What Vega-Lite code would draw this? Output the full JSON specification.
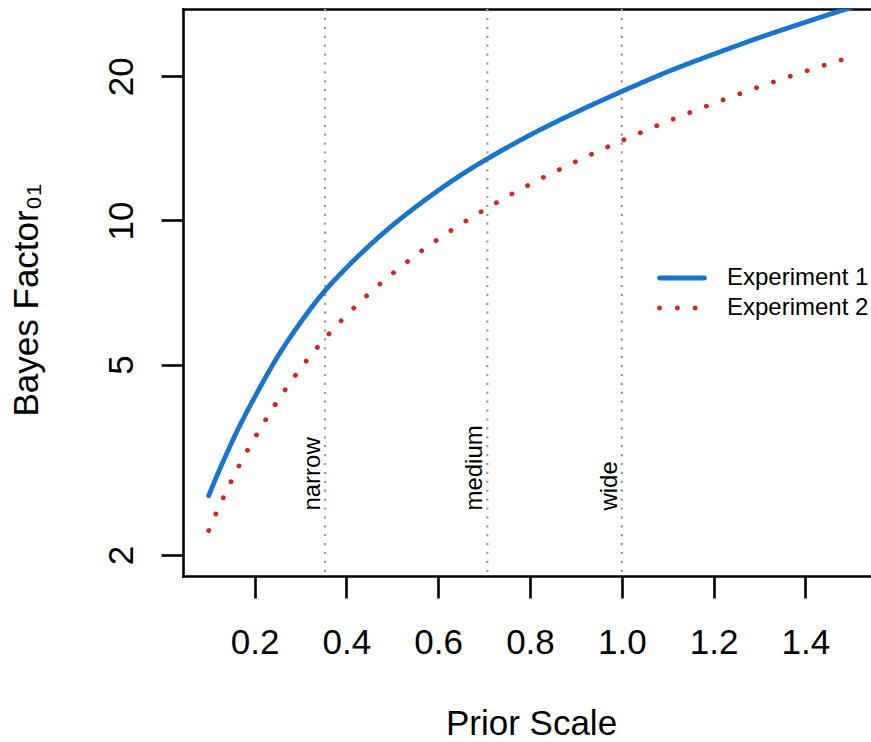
{
  "$schema": "https://vega.github.io/schema/vega-lite/v6.json",
  "autosize": {"type": "none"},
  "padding": {"left": 183, "top": 9, "right": 0, "bottom": 166},
  "width": 688,
  "height": 567,
  "background": "white",
  "config": {
    "view": {"stroke": null},
    "font": "Liberation Sans",
    "axis": {
      "labelFont": "Liberation Sans",
      "titleFont": "Liberation Sans",
      "labelColor": "black",
      "titleColor": "black",
      "titleFontWeight": "normal",
      "grid": false
    },
    "legend": {"labelFont": "Liberation Sans"}
  },
  "datasets": {
    "curves": [
      {"r": 0.10, "bf": 2.66, "series": "Experiment 1"},
      {"r": 0.12, "bf": 2.96, "series": "Experiment 1"},
      {"r": 0.14, "bf": 3.27, "series": "Experiment 1"},
      {"r": 0.16, "bf": 3.60, "series": "Experiment 1"},
      {"r": 0.18, "bf": 3.93, "series": "Experiment 1"},
      {"r": 0.20, "bf": 4.27, "series": "Experiment 1"},
      {"r": 0.25, "bf": 5.19, "series": "Experiment 1"},
      {"r": 0.30, "bf": 6.12, "series": "Experiment 1"},
      {"r": 0.35, "bf": 7.07, "series": "Experiment 1"},
      {"r": 0.40, "bf": 7.96, "series": "Experiment 1"},
      {"r": 0.45, "bf": 8.86, "series": "Experiment 1"},
      {"r": 0.50, "bf": 9.76, "series": "Experiment 1"},
      {"r": 0.55, "bf": 10.65, "series": "Experiment 1"},
      {"r": 0.60, "bf": 11.55, "series": "Experiment 1"},
      {"r": 0.65, "bf": 12.45, "series": "Experiment 1"},
      {"r": 0.70, "bf": 13.33, "series": "Experiment 1"},
      {"r": 0.75, "bf": 14.20, "series": "Experiment 1"},
      {"r": 0.80, "bf": 15.08, "series": "Experiment 1"},
      {"r": 0.85, "bf": 15.95, "series": "Experiment 1"},
      {"r": 0.90, "bf": 16.82, "series": "Experiment 1"},
      {"r": 0.95, "bf": 17.70, "series": "Experiment 1"},
      {"r": 1.00, "bf": 18.60, "series": "Experiment 1"},
      {"r": 1.05, "bf": 19.52, "series": "Experiment 1"},
      {"r": 1.10, "bf": 20.45, "series": "Experiment 1"},
      {"r": 1.15, "bf": 21.35, "series": "Experiment 1"},
      {"r": 1.20, "bf": 22.25, "series": "Experiment 1"},
      {"r": 1.25, "bf": 23.17, "series": "Experiment 1"},
      {"r": 1.30, "bf": 24.10, "series": "Experiment 1"},
      {"r": 1.35, "bf": 25.02, "series": "Experiment 1"},
      {"r": 1.40, "bf": 25.95, "series": "Experiment 1"},
      {"r": 1.45, "bf": 26.90, "series": "Experiment 1"},
      {"r": 1.50, "bf": 27.85, "series": "Experiment 1"},
      {"r": 0.10, "bf": 2.25, "series": "Experiment 2"},
      {"r": 0.12, "bf": 2.49, "series": "Experiment 2"},
      {"r": 0.14, "bf": 2.735, "series": "Experiment 2"},
      {"r": 0.16, "bf": 2.99, "series": "Experiment 2"},
      {"r": 0.18, "bf": 3.25, "series": "Experiment 2"},
      {"r": 0.20, "bf": 3.51, "series": "Experiment 2"},
      {"r": 0.25, "bf": 4.195, "series": "Experiment 2"},
      {"r": 0.30, "bf": 4.905, "series": "Experiment 2"},
      {"r": 0.35, "bf": 5.62, "series": "Experiment 2"},
      {"r": 0.40, "bf": 6.33, "series": "Experiment 2"},
      {"r": 0.45, "bf": 7.04, "series": "Experiment 2"},
      {"r": 0.50, "bf": 7.74, "series": "Experiment 2"},
      {"r": 0.55, "bf": 8.44, "series": "Experiment 2"},
      {"r": 0.60, "bf": 9.14, "series": "Experiment 2"},
      {"r": 0.65, "bf": 9.83, "series": "Experiment 2"},
      {"r": 0.70, "bf": 10.52, "series": "Experiment 2"},
      {"r": 0.75, "bf": 11.21, "series": "Experiment 2"},
      {"r": 0.80, "bf": 11.90, "series": "Experiment 2"},
      {"r": 0.85, "bf": 12.58, "series": "Experiment 2"},
      {"r": 0.90, "bf": 13.27, "series": "Experiment 2"},
      {"r": 0.95, "bf": 13.97, "series": "Experiment 2"},
      {"r": 1.00, "bf": 14.68, "series": "Experiment 2"},
      {"r": 1.05, "bf": 15.39, "series": "Experiment 2"},
      {"r": 1.10, "bf": 16.11, "series": "Experiment 2"},
      {"r": 1.15, "bf": 16.83, "series": "Experiment 2"},
      {"r": 1.20, "bf": 17.56, "series": "Experiment 2"},
      {"r": 1.25, "bf": 18.29, "series": "Experiment 2"},
      {"r": 1.30, "bf": 19.03, "series": "Experiment 2"},
      {"r": 1.35, "bf": 19.76, "series": "Experiment 2"},
      {"r": 1.40, "bf": 20.50, "series": "Experiment 2"},
      {"r": 1.45, "bf": 21.23, "series": "Experiment 2"},
      {"r": 1.50, "bf": 21.95, "series": "Experiment 2"}
    ],
    "refs": [
      {"r": 0.3536, "label": "narrow"},
      {"r": 0.7071, "label": "medium"},
      {"r": 1.0, "label": "wide"}
    ]
  },
  "resolve": {"axis": {"x": "independent", "y": "independent"}},
  "layer": [
    {
      "data": {"name": "refs"},
      "mark": {"type": "rule", "color": "#9a9a9a", "strokeWidth": 2.2, "strokeDash": [2.2, 6.7]},
      "encoding": {
        "x": {
          "field": "r", "type": "quantitative",
          "scale": {"domain": [0.044, 1.543], "nice": false, "zero": false},
          "axis": {"orient": "top", "labels": false, "ticks": false, "domain": true, "domainColor": "black", "domainWidth": 2.6, "domainCap": "square", "title": null, "grid": false}
        }
      }
    },
    {
      "data": {"name": "refs"},
      "mark": {"type": "text", "angle": -90, "align": "left", "baseline": "alphabetic", "dx": -2, "dy": -5, "fontSize": 24, "font": "Liberation Sans", "color": "black"},
      "encoding": {
        "x": {"field": "r", "type": "quantitative", "axis": null},
        "y": {"datum": 2.5, "type": "quantitative", "axis": null},
        "text": {"field": "label"}
      }
    },
    {
      "data": {"name": "curves"},
      "mark": {"type": "line", "clip": true, "strokeWidth": 4.8, "strokeCap": "round", "interpolate": "monotone"},
      "encoding": {
        "x": {
          "field": "r", "type": "quantitative",
          "axis": {
            "orient": "bottom",
            "title": "Prior Scale",
            "values": [0.2, 0.4, 0.6, 0.8, 1.0, 1.2, 1.4],
            "format": ".1f",
            "labelFontSize": 35,
            "titleFontSize": 35,
            "labelBaseline": "top",
            "labelPadding": 27,
            "labelFlush": false,
            "labelOverlap": false,
            "tickSize": 22,
            "tickWidth": 2.6,
            "tickColor": "black",
            "domainColor": "black",
            "domainWidth": 2.6,
            "domainCap": "square",
            "titleAlign": "center",
            "titleBaseline": "alphabetic",
            "titleX": 348,
            "titleY": 158
          }
        },
        "y": {
          "field": "bf", "type": "quantitative",
          "scale": {"type": "log", "domain": [1.8077, 27.655], "nice": false, "zero": false},
          "axis": {
            "orient": "left",
            "title": "Bayes Factor₀₁",
            "values": [2, 5, 10, 20],
            "labelFontSize": 35,
            "titleFontSize": 35,
            "labelAngle": -90,
            "labelAlign": "center",
            "labelBaseline": "alphabetic",
            "labelPadding": 29,
            "labelFlush": false,
            "labelOverlap": false,
            "tickSize": 22,
            "tickWidth": 2.6,
            "tickColor": "black",
            "domainColor": "black",
            "domainWidth": 2.6,
            "domainCap": "square",
            "titleAngle": -90,
            "titleAlign": "left",
            "titleBaseline": "alphabetic",
            "titleX": -146,
            "titleY": 407
          }
        },
        "color": {
          "field": "series", "type": "nominal",
          "scale": {"domain": ["Experiment 1", "Experiment 2"], "range": ["#1874CD", "#CD2626"]},
          "legend": {
            "orient": "none",
            "legendX": 474,
            "legendY": 257,
            "title": null,
            "padding": 0,
            "symbolType": "stroke",
            "symbolSize": 2025,
            "symbolStrokeWidth": 4.8,
            "labelFontSize": 24,
            "labelColor": "black",
            "labelOffset": 20,
            "clipHeight": 24,
            "rowPadding": 6,
            "encode": {"symbols": {"update": {"strokeCap": {"value": "round"}}}}
          }
        },
        "strokeDash": {
          "field": "series", "type": "nominal",
          "scale": {"domain": ["Experiment 1", "Experiment 2"], "range": [[1, 0], [0.1, 17.7]]}
        }
      }
    }
  ]
}
